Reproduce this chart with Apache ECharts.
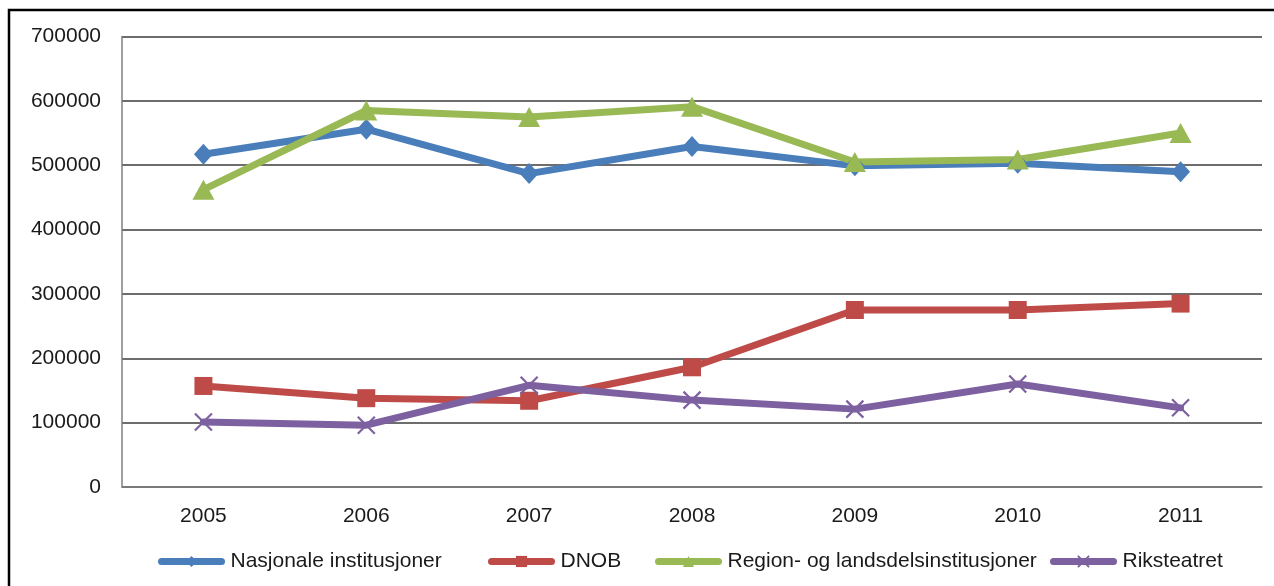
<!DOCTYPE html>
<html>
<head>
<meta charset="utf-8">
<script src="https://cdn.jsdelivr.net/npm/echarts@6/dist/echarts.min.js"></script>
<style>
  html, body { margin: 0; padding: 0; background: #fff; }
  #chart { width: 1274px; height: 586px; }
</style>
</head>
<body>
<div id="chart"></div>
<script>
// Publikum per år, fordelt på institusjonstype
const years = ['2005', '2006', '2007', '2008', '2009', '2010', '2011'];
const nasjonale = [517000, 556000, 487000, 529000, 499000, 503000, 490000];
const dnob = [157000, 138000, 134000, 186000, 275000, 275000, 285000];
const region = [462000, 585000, 575000, 591000, 505000, 509000, 550000];
const riksteatret = [101000, 96000, 158000, 135000, 121000, 160000, 123000];
const seriesNames = ['Nasjonale institusjoner', 'DNOB', 'Region- og landsdelsinstitusjoner', 'Riksteatret'];

const colors = ['#4A7EBB', '#BE4B48', '#98B954', '#7D60A0'];
const FONT = '"Liberation Sans", Arial, sans-serif';
const crossPath = 'path://M0,0L10,10M10,0L0,10';

const chart = echarts.init(document.getElementById('chart'), null, { renderer: 'canvas' });

function lineSeries(name, data, color, symbol, size, extraItem) {
  return {
    name: name,
    type: 'line',
    data: data,
    symbol: symbol,
    symbolSize: size,
    showAllSymbol: true,
    lineStyle: { color: color, width: 7, cap: 'round', join: 'round' },
    itemStyle: Object.assign({ color: color }, extraItem || {}),
    emphasis: { disabled: true },
    z: 3
  };
}

const legendLefts = [158, 488, 655, 1050];

chart.setOption({
  animation: false,
  backgroundColor: '#fff',
  grid: { left: 122, right: 12, top: 36.5, bottom: 99, containLabel: false },
  xAxis: {
    type: 'category',
    data: years,
    boundaryGap: true,
    axisLine: { show: true, lineStyle: { color: '#7f7f7f', width: 1.5 } },
    axisTick: { show: false },
    axisLabel: { color: '#1a1a1a', fontFamily: FONT, fontSize: 21, margin: 19 },
    splitLine: { show: false }
  },
  yAxis: {
    type: 'value',
    min: 0,
    max: 700000,
    interval: 100000,
    axisLine: { show: true, lineStyle: { color: '#7f7f7f', width: 1.5 } },
    axisTick: { show: false },
    axisLabel: {
      color: '#1a1a1a', fontFamily: FONT, fontSize: 21, margin: 21,
      formatter: v => String(v)
    },
    splitLine: { show: true, lineStyle: { color: '#3c3c3c', width: 1.5 } }
  },
  legend: seriesNames.map((n, i) => ({
    data: [n],
    left: legendLefts[i],
    top: 551,
    padding: 0,
    itemWidth: 60,
    itemHeight: 14,
    itemGap: 0,
    lineStyle: { width: 7, cap: 'round' },
    textStyle: { color: '#1a1a1a', fontFamily: FONT, fontSize: 21, padding: [0, 0, 0, 4] },
    selectedMode: false
  })),
  series: [
    lineSeries(seriesNames[0], nasjonale, colors[0], 'diamond', [19, 21]),
    lineSeries(seriesNames[1], dnob, colors[1], 'rect', [18, 18]),
    lineSeries(seriesNames[2], region, colors[2], 'triangle', [22, 20]),
    lineSeries(seriesNames[3], riksteatret, colors[3], crossPath, [17, 17],
      { borderColor: colors[3], borderWidth: 2.2 })
  ],
  graphic: [
    {
      type: 'polyline',
      shape: { points: [[9, 586], [9, 10], [1274, 10]] },
      style: { stroke: '#000', lineWidth: 2.5, fill: null },
      silent: true
    }
  ]
});
</script>
</body>
</html>
